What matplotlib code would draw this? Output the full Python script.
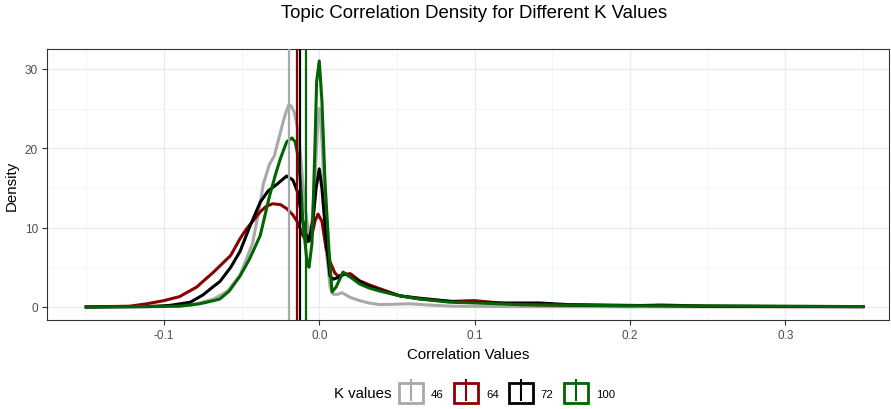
import matplotlib.pyplot as plt
from matplotlib.lines import Line2D
from matplotlib.patches import Patch
from matplotlib.legend_handler import HandlerTuple

plt.rcParams['font.family'] = ['Liberation Sans', 'DejaVu Sans']

# density curves
k_labels = ['46', '64', '72', '100']
colors = ['darkgray', 'darkred', 'black', 'darkgreen']

x46 = [-0.15, -0.12, -0.1, -0.083, -0.068, -0.059, -0.051, -0.043, -0.039, -0.036,
       -0.032, -0.029, -0.027, -0.025, -0.023, -0.021, -0.0195, -0.018, -0.016, -0.014,
       -0.012, -0.0095, -0.0066, -0.0045, -0.0025, -0.001, 0.0, 0.001, 0.002, 0.004,
       0.007, 0.009, 0.012, 0.0146, 0.02, 0.026, 0.032, 0.039, 0.05, 0.058,
       0.07, 0.086, 0.12, 0.2, 0.35]
y46 = [0.0, 0.02, 0.05, 0.2, 1.0, 2.0, 4.0, 8.0, 12.0, 15.5,
       18.0, 19.0, 20.5, 22.0, 23.5, 24.8, 25.5, 25.3, 24.5, 22.5,
       19.0, 13.0, 9.0, 11.0, 17.0, 23.0, 25.0, 23.5, 20.0, 8.0,
       2.5, 1.6, 1.6, 1.8, 1.2, 0.8, 0.5, 0.3, 0.35, 0.4,
       0.25, 0.1, 0.05, 0.02, 0.0]

x64 = [-0.15, -0.122, -0.111, -0.1, -0.09, -0.079, -0.068, -0.057, -0.051, -0.047,
       -0.042, -0.038, -0.034, -0.03, -0.025, -0.021, -0.017, -0.014, -0.0105, -0.008,
       -0.0053, -0.0028, -0.0008, 0.0017, 0.0043, 0.0069, 0.01, 0.012, 0.016, 0.02,
       0.026, 0.032, 0.039, 0.052, 0.065, 0.084, 0.1, 0.116, 0.129, 0.16,
       0.2, 0.22, 0.25, 0.3, 0.35]
y64 = [0.0, 0.1, 0.4, 0.8, 1.3, 2.5, 4.4, 6.5, 8.6, 9.8,
       11.0, 12.0, 12.7, 13.0, 12.9, 12.4, 11.6, 10.7, 9.0, 8.2,
       8.5, 10.8, 11.7, 10.8, 7.5, 5.7, 4.3, 3.9, 4.1, 4.2,
       3.3, 2.8, 2.3, 1.4, 1.0, 0.7, 0.8, 0.5, 0.3, 0.2,
       0.15, 0.25, 0.1, 0.05, 0.05]

x72 = [-0.15, -0.109, -0.096, -0.083, -0.075, -0.068, -0.064, -0.057, -0.051, -0.045,
       -0.038, -0.033, -0.027, -0.021, -0.017, -0.014, -0.0118, -0.0092, -0.0066, -0.004,
       -0.002, 0.0, 0.0017, 0.005, 0.0069, 0.009, 0.012, 0.0165, 0.02, 0.026,
       0.032, 0.039, 0.052, 0.065, 0.09, 0.116, 0.142, 0.16, 0.2, 0.25,
       0.35]
y72 = [0.0, 0.05, 0.2, 0.6, 1.5, 2.6, 3.2, 5.0, 7.0, 10.0,
       13.2, 14.6, 15.5, 16.5, 16.0, 14.5, 12.0, 9.5, 8.3, 11.0,
       15.0, 17.4, 15.0, 7.3, 3.9, 3.5, 3.7, 4.2, 3.8, 3.2,
       2.6, 2.1, 1.4, 1.1, 0.6, 0.5, 0.5, 0.3, 0.2, 0.1,
       0.05]

x100 = [-0.15, -0.09, -0.077, -0.068, -0.064, -0.058, -0.051, -0.045, -0.038, -0.032,
        -0.028, -0.025, -0.021, -0.0176, -0.0155, -0.0137, -0.012, -0.0105, -0.0079, -0.0066,
        -0.0047, -0.0028, -0.0017, 0.0, 0.0017, 0.0037, 0.0062, 0.0082, 0.0108, 0.0153,
        0.0198, 0.026, 0.032, 0.039, 0.052, 0.065, 0.084, 0.103, 0.129, 0.2,
        0.35]
y100 = [0.0, 0.1, 0.4, 0.8, 1.0, 2.0, 3.9, 6.0, 9.0, 14.0,
        16.8, 18.7, 20.8, 21.3, 20.8, 19.0, 15.5, 10.7, 5.7, 5.0,
        8.0, 20.0, 28.4, 31.0, 26.0, 15.8, 7.3, 1.9, 2.5, 4.4,
        3.8, 2.9, 2.4, 2.0, 1.4, 1.0, 0.6, 0.5, 0.3, 0.15,
        0.05]

mean_corr = [-0.0195, -0.0142, -0.0126, -0.0086]

xs = [x46, x64, x72, x100]
ys = [y46, y64, y72, y100]

fig = plt.figure(figsize=(8.91, 4.10), dpi=100)
ax = fig.add_axes([0.0527, 0.2171, 0.9451, 0.6609])

for x, y, c in zip(xs, ys, colors):
    ax.plot(x, y, color=c, lw=2.2, solid_joinstyle='round', zorder=3)
for m, c in zip(mean_corr, colors):
    ax.axvline(m, color=c, lw=1.6, zorder=4)

ax.set_xlim(-0.1753, 0.3668)
ax.set_ylim(-1.64, 32.5)
ax.set_xticks([-0.1, 0.0, 0.1, 0.2, 0.3])
ax.set_xticklabels(['-0.1', '0.0', '0.1', '0.2', '0.3'])
ax.set_yticks([0, 10, 20, 30])
ax.set_xticks([-0.15, -0.05, 0.05, 0.15, 0.25, 0.35], minor=True)
ax.set_yticks([5, 15, 25], minor=True)
ax.grid(which='major', color='#ebebeb', lw=1.0, zorder=0)
ax.grid(which='minor', color='#f3f3f3', lw=0.6, zorder=0)
ax.tick_params(which='major', length=3.5, width=0.8, color='#333333',
               labelsize=8.5, labelcolor='#4d4d4d', pad=3)
ax.tick_params(which='minor', length=0)
for s in ax.spines.values():
    s.set_color('#333333')
    s.set_linewidth(0.8)

ax.set_xlabel('Correlation Values', fontsize=10.8, labelpad=4)
ax.set_ylabel('Density', fontsize=10.8, labelpad=4)
fig.text(474 / 891, 1 - 14 / 410, 'Topic Correlation Density for Different K Values',
         fontsize=13.4, ha='center', va='center')

handles = [(Patch(facecolor='none', edgecolor=c, lw=2.0),
            Line2D([], [], color=c, marker='|', linestyle='None', markersize=16, markeredgewidth=1.5))
           for c in colors]
fig.text(392 / 891, 1 - 394 / 410, 'K values', fontsize=10.8, ha='right', va='center')
fig.legend(handles, k_labels, handler_map={tuple: HandlerTuple(ndivide=1)},
           loc='center', bbox_to_anchor=(507 / 891, 1 - 394 / 410), ncol=4, frameon=False,
           fontsize=8.2, handlelength=2.1, handleheight=2.2, handletextpad=0.7,
           columnspacing=0.9, borderpad=0)

fig.savefig('out.png', dpi=100)
